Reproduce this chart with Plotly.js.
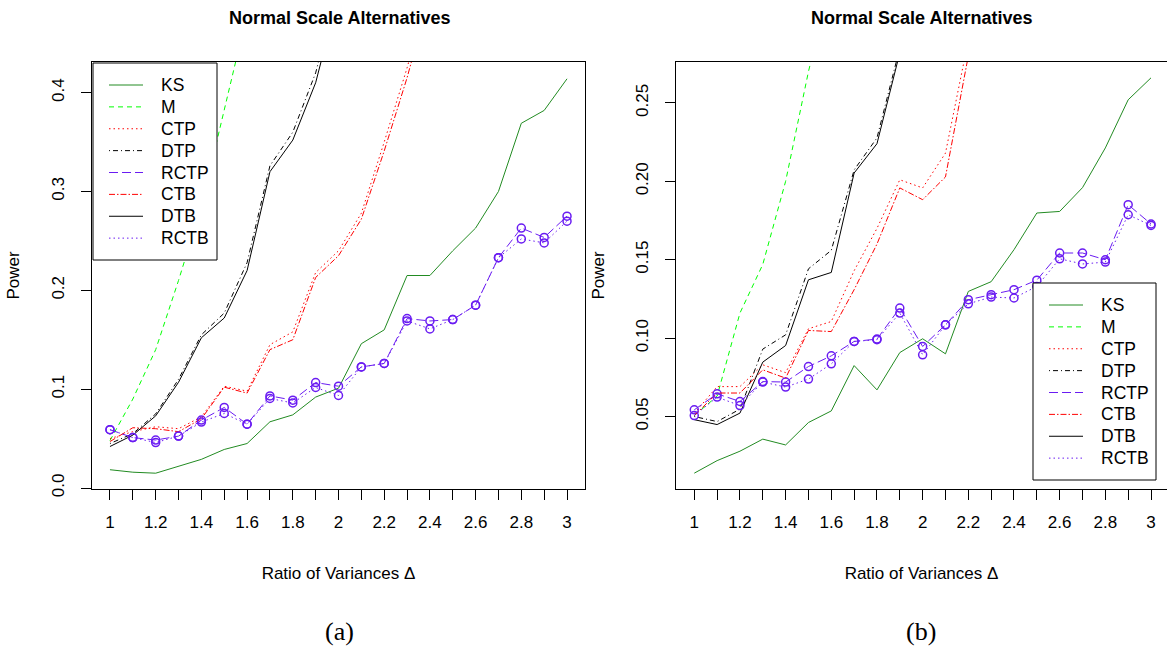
<!DOCTYPE html>
<html>
<head>
<meta charset="utf-8">
<script src="https://cdn.plot.ly/plotly-3.0.1.min.js"></script>
<style>html,body{margin:0;padding:0;background:#fff;}</style>
</head>
<body>
<div id="chart" style="width:1167px;height:649px;"></div>
<script>
// ---- data: ratio of variances ----
const ratio = [1.0,1.1,1.2,1.3,1.4,1.5,1.6,1.7,1.8,1.9,2.0,2.1,2.2,2.3,2.4,2.5,2.6,2.7,2.8,2.9,3.0];
const seriesNames = ["KS","M","CTP","DTP","RCTP","CTB","DTB","RCTB"];

// panel (a)  (null = above the plotted range, not readable)
const KS_a   = [0.0185,0.016,0.015,0.022,0.029,0.039,0.045,0.067,0.074,0.092,0.101,0.146,0.160,0.215,0.215,0.240,0.263,0.300,0.369,0.382,0.414];
const M_a    = [0.048,0.090,0.140,0.210,0.285,0.380,0.480,null,null,null,null,null,null,null,null,null,null,null,null,null,null];
const CTP_a  = [0.050,0.057,0.062,0.060,0.072,0.103,0.098,0.145,0.158,0.218,0.240,0.278,0.350,0.425,0.510,null,null,null,null,null,null];
const DTP_a  = [0.045,0.055,0.075,0.110,0.155,0.177,0.228,0.326,0.360,0.420,0.510,null,null,null,null,null,null,null,null,null,null];
const RCTP_a = [0.059,0.051,0.0485,0.0525,0.0687,0.0815,0.0646,0.0932,0.0889,0.1067,0.103,0.1225,0.126,0.1714,0.169,0.1704,0.185,0.233,0.263,0.2535,0.275];
const CTB_a  = [0.047,0.061,0.060,0.057,0.070,0.102,0.096,0.140,0.150,0.213,0.235,0.272,0.341,0.415,0.500,null,null,null,null,null,null];
const DTB_a  = [0.042,0.0535,0.073,0.107,0.152,0.172,0.220,0.320,0.352,0.410,0.500,null,null,null,null,null,null,null,null,null,null];
const RCTB_a = [0.059,0.051,0.046,0.0525,0.0667,0.0754,0.0646,0.0906,0.086,0.1017,0.0936,0.1225,0.126,0.169,0.161,0.1704,0.185,0.233,0.252,0.248,0.270];

// panel (b)
const KS_b   = [0.0139,0.0219,0.0279,0.0356,0.0319,0.0462,0.0536,0.0825,0.0670,0.0908,0.0996,0.090,0.1298,0.136,0.1564,0.1798,0.1808,0.196,0.2213,0.252,0.266];
const M_b    = [0.0506,0.063,0.116,0.147,0.200,0.270,0.330,null,null,null,null,null,null,null,null,null,null,null,null,null,null];
const CTP_b  = [0.052,0.0691,0.0691,0.083,0.078,0.106,0.1106,0.143,0.170,0.201,0.1958,0.218,0.290,null,null,null,null,null,null,null,null];
const DTP_b  = [0.050,0.0468,0.0547,0.093,0.1021,0.1442,0.156,0.2073,0.2277,0.285,0.350,null,null,null,null,null,null,null,null,null,null];
const RCTP_b = [0.0543,0.0645,0.0596,0.0723,0.072,0.0819,0.0887,0.0979,0.0994,0.1192,0.0947,0.1085,0.1245,0.1277,0.1309,0.137,0.1543,0.1543,0.150,0.1851,0.1728];
const CTB_b  = [0.0506,0.065,0.065,0.0798,0.0745,0.1049,0.1042,0.1309,0.160,0.1958,0.1883,0.2028,0.280,null,null,null,null,null,null,null,null];
const DTB_b  = [0.048,0.0449,0.0522,0.0847,0.0953,0.1372,0.1419,0.2053,0.224,0.280,0.340,null,null,null,null,null,null,null,null,null,null];
const RCTB_b = [0.0506,0.0624,0.0570,0.072,0.0688,0.0739,0.0836,0.0979,0.099,0.116,0.0894,0.1085,0.1219,0.1262,0.1256,0.133,0.1506,0.1473,0.1485,0.1787,0.1719];

const xTickVals = [1,1.2,1.4,1.6,1.8,2,2.2,2.4,2.6,2.8,3];
const yTickVals_a = [0,0.1,0.2,0.3,0.4];
const yTickVals_b = [0.05,0.10,0.15,0.20,0.25];

// ---- styles ----
const PURPLE = "#6A1CF2";
const styles = {
  KS:   {color:"#228B22", dash:"solid"},
  M:    {color:"#00FF00", dash:"5px,4px"},
  CTP:  {color:"#FF0000", dash:"1.5px,3px"},
  DTP:  {color:"#000000", dash:"1px,3px,5px,3px"},
  RCTP: {color:PURPLE,    dash:"9px,4px"},
  CTB:  {color:"#FF0000", dash:"6px,2px,1.5px,2px"},
  DTB:  {color:"#000000", dash:"solid"},
  RCTB: {color:PURPLE,    dash:"1.5px,3px"}
};
const withCircles = {RCTP:true, RCTB:true};

const panelA = {KS:KS_a, M:M_a, CTP:CTP_a, DTP:DTP_a, RCTP:RCTP_a, CTB:CTB_a, DTB:DTB_a, RCTB:RCTB_a};
const panelB = {KS:KS_b, M:M_b, CTP:CTP_b, DTP:DTP_b, RCTP:RCTP_b, CTB:CTB_b, DTB:DTB_b, RCTB:RCTB_b};

const traces = [];
function addPanel(data, xa, ya){
  seriesNames.forEach(name => {
    const st = styles[name];
    traces.push({
      type:"scatter", mode:"lines", name:name, x:ratio, y:data[name],
      xaxis:xa, yaxis:ya, showlegend:false, connectgaps:false,
      line:{color:st.color, width:1, dash:st.dash}, hoverinfo:"x+y+name"
    });
    if (withCircles[name]) {
      traces.push({
        type:"scatter", mode:"markers", name:name, x:ratio, y:data[name],
        xaxis:xa, yaxis:ya, showlegend:false,
        marker:{symbol:"circle-open", size:8, color:st.color, line:{width:1.5, color:st.color}},
        hoverinfo:"skip"
      });
    }
  });
}
addPanel(panelA, "x", "y");
addPanel(panelB, "x2", "y2");

const W = 1167, H = 649;
const FONT = "Liberation Sans, Arial, Helvetica, sans-serif";
const yDom = [(H-489)/H, (H-62)/H];
const px = v => v / W;
const py = v => 1 - v / H;

function xAxis(domain, range, anchor){
  return {
    domain:domain, range:range, anchor:anchor,
    tickmode:"array", tickvals:xTickVals,
    ticks:"outside", ticklen:10, tickwidth:1, tickcolor:"#000",
    minor:{tickmode:"linear", tick0:1, dtick:0.1, ticks:"outside", ticklen:10, tickwidth:1, tickcolor:"#000", showgrid:false},
    showline:true, mirror:true, linecolor:"#000", linewidth:1,
    showgrid:false, zeroline:false,
    tickfont:{family:FONT, size:17, color:"#000"},
    ticklabelstandoff:8,
    title:{text:"Ratio of Variances \u0394", font:{family:FONT, size:17, color:"#000"}, standoff:35}
  };
}
function yAxis(domain, range, anchor, tickvals, fmt){
  return {
    domain:domain, range:range, anchor:anchor,
    tickmode:"array", tickvals:tickvals, tickformat:fmt, tickangle:-90,
    ticks:"outside", ticklen:10, tickwidth:1, tickcolor:"#000",
    showline:true, mirror:true, linecolor:"#000", linewidth:1,
    showgrid:false, zeroline:false,
    tickfont:{family:FONT, size:17, color:"#000"},
    ticklabelstandoff:10,
    title:{text:"Power", font:{family:FONT, size:17, color:"#000"}, standoff:24}
  };
}

// ---- legends (R-style boxes) ----
const shapes = [];
const annotations = [];
function addLegend(left, top, right, bottom){
  shapes.push({type:"rect", xref:"paper", yref:"paper", x0:px(left), x1:px(right), y0:py(bottom), y1:py(top),
               line:{color:"#000", width:1}, fillcolor:"#fff", layer:"above"});
  const rowGap = (bottom - top - 22) / seriesNames.length;
  seriesNames.forEach((name, i) => {
    const yc = top + 22 + rowGap * i;
    const st = styles[name];
    shapes.push({type:"line", xref:"paper", yref:"paper", x0:px(left+16), x1:px(left+50), y0:py(yc), y1:py(yc),
                 line:{color:st.color, width:1, dash:st.dash}, layer:"above"});
    annotations.push({text:name, x:px(left+66), y:py(yc), xref:"paper", yref:"paper", xanchor:"left", yanchor:"middle",
                      showarrow:false, font:{family:FONT, size:17.5, color:"#000"}});
  });
}
addLegend(93, 63, 217, 260);
addLegend(1033, 283, 1156, 480);

annotations.push(
  {text:"<b>Normal Scale Alternatives</b>", x:px(339), y:py(18), xref:"paper", yref:"paper", xanchor:"center", yanchor:"middle", showarrow:false, font:{family:FONT, size:18, color:"#000"}},
  {text:"<b>Normal Scale Alternatives</b>", x:px(921), y:py(18), xref:"paper", yref:"paper", xanchor:"center", yanchor:"middle", showarrow:false, font:{family:FONT, size:18, color:"#000"}},
  {text:"(a)", x:px(339), y:py(631), xref:"paper", yref:"paper", xanchor:"center", yanchor:"middle", showarrow:false, font:{family:"Liberation Serif, Times New Roman, serif", size:26, color:"#000"}},
  {text:"(b)", x:px(921), y:py(631), xref:"paper", yref:"paper", xanchor:"center", yanchor:"middle", showarrow:false, font:{family:"Liberation Serif, Times New Roman, serif", size:26, color:"#000"}}
);

const layout = {
  width:W, height:H,
  margin:{l:0, r:0, t:0, b:0, pad:0},
  paper_bgcolor:"#fff", plot_bgcolor:"#fff",
  showlegend:false,
  xaxis: xAxis([px(91.7), px(585.3)], [0.92, 3.08], "y"),
  yaxis: yAxis(yDom, [-0.001, 0.431], "x", yTickVals_a, ".1f"),
  xaxis2: xAxis([px(676), 1], [0.92, 3.07], "y2"),
  yaxis2: yAxis(yDom, [0.0038, 0.2761], "x2", yTickVals_b, ".2f"),
  shapes: shapes,
  annotations: annotations
};

Plotly.newPlot("chart", traces, layout, {displayModeBar:false, staticPlot:true});
</script>
</body>
</html>
